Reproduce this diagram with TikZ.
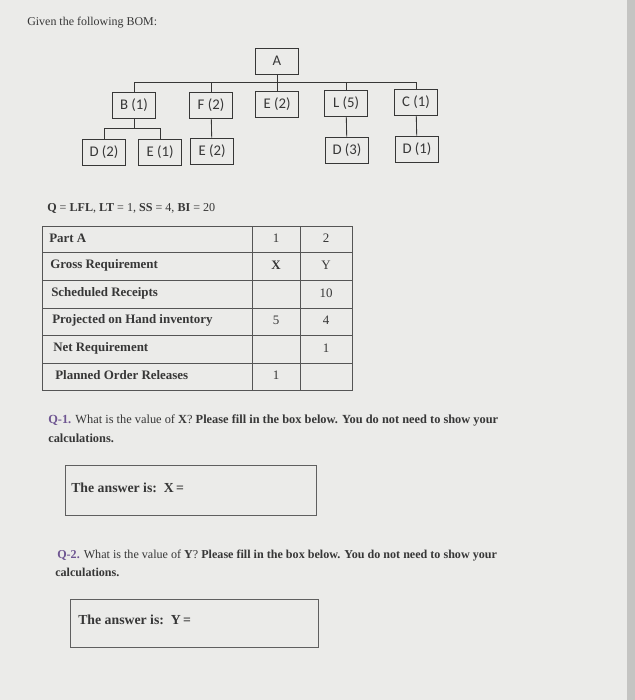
\documentclass[tikz,border=0pt]{standalone}
\usepackage{fontspec}
\setmainfont{Liberation Serif}
\newfontfamily\bomfont{Carlito}
\usepackage{xcolor}
\usepackage{tikz}
\definecolor{paper}{RGB}{235,235,233}
\definecolor{edge}{RGB}{196,196,194}
\definecolor{ink}{RGB}{55,55,55}
\definecolor{qpurple}{RGB}{110,85,145}

\begin{document}
\begin{tikzpicture}[x=0.025cm,y=-0.025cm,
	part/.style={draw=ink,line width=0.6pt,text=ink,inner sep=0pt,
		minimum width=1.075cm,minimum height=0.65cm,
		font=\bomfont\fontsize{10.5}{12}\selectfont},
	txt/.style={text=ink,inner sep=0pt,font=\fontsize{8.8}{10}\selectfont},
	cell/.style={text=ink,inner sep=0pt,font=\fontsize{9.2}{10}\selectfont},
	tabline/.style={draw=ink!85,line width=0.6pt},
	ansbox/.style={draw=ink!80,line width=0.6pt,inner sep=0pt}]
	% Nền
	\fill[paper] (0,0) rectangle (635,700);
	\fill[edge] (627,0) rectangle (635,700);
	\node[txt,anchor=base west,font=\fontsize{8.5}{10}\selectfont] (given) at (27,25) {Given the following BOM:};
	% Cây BOM
	\node[part] (A) at (277,61) {A};
	\node[part] (B) at (134,105) {B (1)};
	\node[part] (F) at (211,105) {F (2)};
	\node[part] (E) at (277,104) {E (2)};
	\node[part] (L) at (346,103) {L (5)};
	\node[part] (C) at (416,102) {C (1)};
	\node[part] (BD) at (104,152) {D (2)};
	\node[part] (BE) at (160,152) {E (1)};
	\node[part] (FE) at (212,151) {E (2)};
	\node[part] (LD) at (347,150) {D (3)};
	\node[part] (CD) at (417,149) {D (1)};
	\coordinate (barA) at (277,82);
	\coordinate (barB) at (134,128);
	\draw[ink,line width=0.6pt] (A) -- (E);
	\foreach \c in {B,F,L,C}
	\draw[ink,line width=0.6pt] (\c.north) |- (barA);
	\draw[ink,line width=0.6pt] (B) -- (barB);
	\foreach \c in {BD,BE}
	\draw[ink,line width=0.6pt] (\c.north) |- (barB);
	\draw[ink,line width=0.6pt] (F) -- (FE);
	\draw[ink,line width=0.6pt] (L) -- (LD);
	\draw[ink,line width=0.6pt] (C) -- (CD);
	% Bảng MRP
	\node[txt,anchor=base west,font=\fontsize{8.6}{10}\selectfont] (data) at (47,211)
	{\textbf{Q} = \textbf{LFL}, \textbf{LT} = 1, \textbf{SS} = 4, \textbf{BI} = 20};
	\draw[tabline] (42,226) rectangle (352,390);
	\foreach \y in {252,280,308,335,363}
	\draw[tabline] (42,\y) -- (352,\y);
	\draw[tabline] (252,226) -- (252,390);
	\draw[tabline] (300,226) -- (300,390);
	\foreach \i/\x/\y/\lab/\a/\b in {1/49/238/{Part A}/1/2,
		2/50/265/{Gross Requirement}/\textbf{X}/Y,
		3/51/293/{Scheduled Receipts}/{}/10,
		4/52/320/{Projected on Hand inventory}/5/4,
		5/53/348/{Net Requirement}/{}/1,
		6/55/375/{Planned Order Releases}/1/{}}
	{
		\node[cell,anchor=west] (lab\i) at (\x,\y) {\textbf{\lab}};
		\node[cell] (one\i) at (276,\y) {\a};
		\node[cell] (two\i) at (326,\y) {\b};
	}
	% Câu hỏi 1
	\node[txt,anchor=base west] (q1a) at (48,423)
	{\textcolor{qpurple}{\textbf{Q-1.}} What is the value of \textbf{X}? \textbf{Please fill in the box below. You do not need to show your}};
	\node[txt,anchor=base west] (q1b) at (48,442) {\textbf{calculations.}};
	\node[ansbox,minimum width=6.275cm,minimum height=1.25cm] (ansX) at (190.5,490) {};
	\node[txt,anchor=west,font=\fontsize{9.8}{11}\selectfont] (ansXt) at (71,488) {\textbf{The answer is:\ \ X\,=}};
	% Câu hỏi 2
	\node[txt,anchor=base west,font=\fontsize{8.6}{10}\selectfont] (q2a) at (57,558)
	{\textcolor{qpurple}{\textbf{Q-2.}} What is the value of \textbf{Y}? \textbf{Please fill in the box below. You do not need to show your}};
	\node[txt,anchor=base west,font=\fontsize{8.6}{10}\selectfont] (q2b) at (55,576) {\textbf{calculations.}};
	\node[ansbox,minimum width=6.2cm,minimum height=1.2cm] (ansY) at (194,623) {};
	\node[txt,anchor=west,font=\fontsize{9.8}{11}\selectfont] (ansYt) at (78,620) {\textbf{The answer is:\ \ Y\,=}};
\end{tikzpicture}
\end{document}
